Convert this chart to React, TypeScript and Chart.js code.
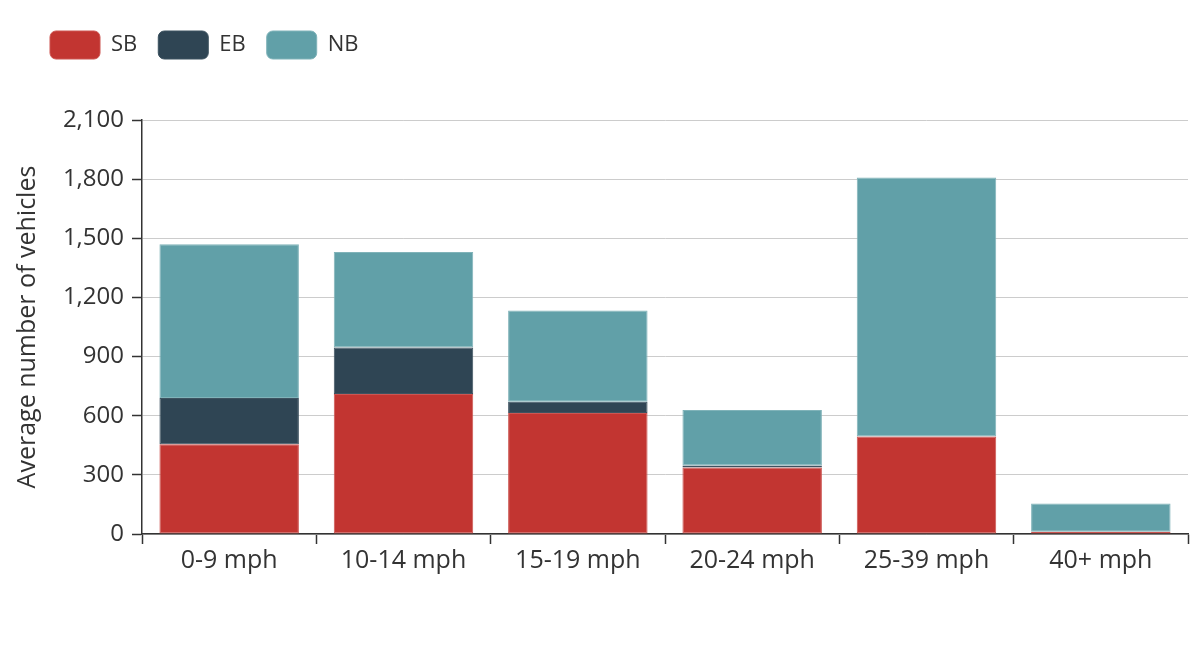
import React, { useEffect, useRef } from "react";
import { Chart, registerables } from "chart.js";

Chart.register(...registerables);

const categories = ["0-9 mph", "10-14 mph", "15-19 mph", "20-24 mph", "25-39 mph", "40+ mph"];
const sbValues = [455, 710, 614, 337, 495, 11];
const ebValues = [235, 236, 57, 11, 0, 0];
const nbValues = [780, 484, 463, 281, 1313, 144];
const seriesNames = ["SB", "EB", "NB"];
const seriesColors = ["#c23531", "#2f4554", "#61a0a8"];
const seriesEdges = ["#cc5551", "#3d5260", "#80b3b9"];
const yTitle = "Average number of vehicles";

const FONT = "'Open Sans', sans-serif";
const TEXT = "#333";

const legendShift = {
  id: "legendShift",
  afterLayout(chart: any) {
    const l = chart.legend;
    if (!l) return;
    const dx = 29;
    l.left += dx;
    l.right += dx;
    const h = l.height;
    l.top = 10;
    l.bottom = l.top + h;
  },
};

export default function App() {
  const ref = useRef<HTMLCanvasElement | null>(null);
  useEffect(() => {
    if (!ref.current) return;
    const values = [sbValues, ebValues, nbValues];
    const chart = new Chart(ref.current, {
      type: "bar",
      data: {
        labels: categories,
        datasets: seriesNames.map((name, i) => ({
          label: name,
          data: values[i],
          backgroundColor: seriesColors[i],
          borderColor: seriesEdges[i],
          borderWidth: 1,
          borderSkipped: false,
          barPercentage: 0.8,
          categoryPercentage: 1.0,
        })),
      },
      options: {
        animation: false,
        responsive: false,
        devicePixelRatio: 1,
        layout: { padding: { top: 61, left: 0, right: 10, bottom: 0 } },
        plugins: {
          legend: {
            position: "top",
            align: "start",
            labels: {
              boxWidth: 50,
              boxHeight: 28,
              useBorderRadius: true,
              borderRadius: 6,
              padding: 21,
              color: TEXT,
              font: { family: FONT, size: 22 },
            },
          },
          tooltip: { enabled: false },
        },
        scales: {
          x: {
            stacked: true,
            offset: true,
            afterFit: (s: any) => {
              s.height = 120;
            },
            grid: {
              offset: true,
              drawOnChartArea: false,
              drawTicks: true,
              tickLength: 10,
              tickColor: TEXT,
              tickWidth: 1.5,
            },
            border: { color: TEXT, width: 1.5 },
            ticks: { color: TEXT, font: { family: FONT, size: 25 }, padding: 2, maxRotation: 0 },
          },
          y: {
            stacked: true,
            min: 0,
            max: 2100,
            afterFit: (s: any) => {
              s.width = 142;
            },
            ticks: {
              stepSize: 300,
              color: TEXT,
              padding: 8,
              font: { family: FONT, size: 24 },
              callback: (v: any) => Number(v).toLocaleString("en-US"),
            },
            grid: {
              color: "#ccc",
              lineWidth: 1,
              tickLength: 10,
              tickColor: TEXT,
              tickWidth: 1.5,
            },
            border: { color: TEXT, width: 1.5 },
            title: {
              display: true,
              text: yTitle,
              color: TEXT,
              font: { family: FONT, size: 25 },
              padding: { top: 13, bottom: 4 },
            },
          },
        },
      },
      plugins: [legendShift],
    });
    return () => chart.destroy();
  }, []);
  return (
    <div style={{ position: "absolute", left: 0, top: 0, width: 1198, height: 654, background: "#fff" }}>
      <canvas ref={ref} width={1198} height={654} />
    </div>
  );
}
